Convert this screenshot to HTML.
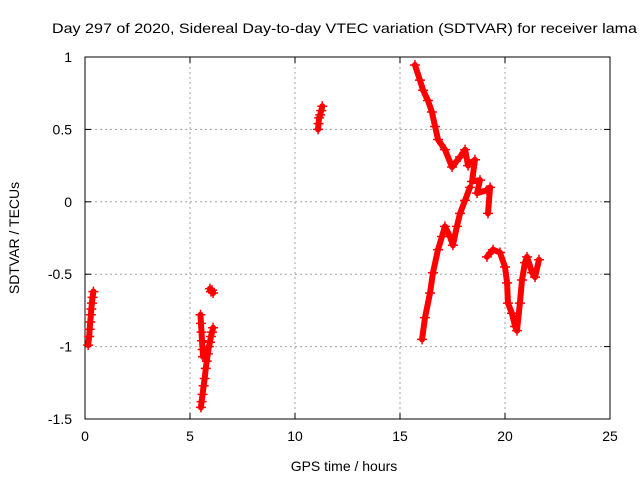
<!DOCTYPE html>
<html><head><meta charset="utf-8"><style>
body{margin:0;background:#fff}
svg{font-family:"Liberation Sans",sans-serif;font-size:14px}
</style></head><body>
<svg id="chart" width="640" height="480">
<text x="52" y="33" textLength="585" lengthAdjust="spacingAndGlyphs">Day 297 of 2020, Sidereal Day-to-day VTEC variation (SDTVAR) for receiver lama</text>
<text x="344" y="471" text-anchor="middle">GPS time / hours</text>
<text transform="translate(19,238) rotate(-90)" text-anchor="middle">SDTVAR / TECUs</text>
<g id="grid"></g><g id="axes"></g><g id="marks"></g>
</svg>
<script>
const xTicks=[0,5,10,15,20,25];
const yTicks=[1,0.5,0,-0.5,-1,-1.5];
const yTickLabels=["1","0.5","0","-0.5","-1","-1.5"];
const seg1=[[0.15,-0.99],[0.2,-0.93],[0.22,-0.88],[0.25,-0.83],[0.28,-0.78],[0.3,-0.74],[0.33,-0.7],[0.36,-0.66],[0.4,-0.62]];
const seg2=[[5.5,-0.78],[5.52,-0.84],[5.55,-0.9],[5.57,-0.96],[5.6,-1.02],[5.62,-1.07]];
const seg3=[[5.52,-1.42],[5.55,-1.38],[5.6,-1.33],[5.65,-1.27],[5.7,-1.22],[5.75,-1.15],[5.8,-1.1],[5.85,-1.05],[5.9,-1.0],[5.95,-0.97],[6.0,-0.93],[6.05,-0.9],[6.1,-0.87]];
const seg4=[[5.95,-0.6],[6.0,-0.62],[6.05,-0.61],[6.1,-0.63]];
const seg5=[[11.1,0.5],[11.12,0.54],[11.15,0.58],[11.2,0.6],[11.25,0.63],[11.3,0.66]];
const seg6=[[15.71,0.945],[15.95,0.84],[16.1,0.77],[16.33,0.7],[16.52,0.62],[16.67,0.52],[16.81,0.43],[17.14,0.36],[17.48,0.24],[17.86,0.31],[18.1,0.36],[18.24,0.25],[18.57,0.29],[18.43,0.14],[18.81,0.15],[18.67,0.06],[19.14,0.08],[19.29,0.1],[19.19,-0.08]];
const seg7=[[16.05,-0.95],[16.19,-0.8],[16.43,-0.63],[16.57,-0.49],[16.81,-0.33],[17.0,-0.24],[17.14,-0.17],[17.38,-0.24],[17.52,-0.3],[17.71,-0.17],[17.86,-0.08],[18.1,0.01],[18.33,0.1]];
const seg8=[[19.14,-0.38],[19.43,-0.33],[19.76,-0.35],[20.0,-0.45],[20.1,-0.56],[20.14,-0.7],[20.33,-0.77],[20.48,-0.86],[20.57,-0.89],[20.71,-0.7],[20.81,-0.54],[20.95,-0.42],[21.05,-0.38],[21.29,-0.49],[21.43,-0.52],[21.62,-0.4]];
const segments=[seg1,seg2,seg3,seg4,seg5,seg6,seg7,seg8];
const X0=85,X1=610,Y0=419,Y1=57;
const sx=h=>X0+(h-0)/25*(X1-X0);
const sy=v=>Y0-(v+1.5)/2.5*(Y0-Y1);
const NS="http://www.w3.org/2000/svg";
function mk(tag,attrs,parent){const e=document.createElementNS(NS,tag);for(const k in attrs)e.setAttribute(k,attrs[k]);parent.appendChild(e);return e;}
const grid=document.getElementById('grid'),axes=document.getElementById('axes'),marks=document.getElementById('marks');
xTicks.forEach((t,i)=>{const x=sx(t);
 if(i>0&&i<xTicks.length-1){const g=mk('line',{x1:x,x2:x,y1:Y1,y2:Y0,stroke:'#a0a0a0','stroke-dasharray':'2,3'},grid);}
 mk('line',{x1:x,x2:x,y1:Y0,y2:Y0-6,stroke:'#000'},axes);mk('line',{x1:x,x2:x,y1:Y1,y2:Y1+6,stroke:'#000'},axes);
 const tx=mk('text',{x:x,y:Y0+22,'text-anchor':'middle'},axes);tx.textContent=t;
 });
yTicks.forEach((t,i)=>{const y=sy(t);
 if(i>0&&i<yTicks.length-1){const g=mk('line',{x1:X0,x2:X1,y1:y,y2:y,stroke:'#a0a0a0','stroke-dasharray':'2,3'},grid);}
 mk('line',{x1:X0,x2:X0+6,y1:y,y2:y,stroke:'#000'},axes);mk('line',{x1:X1,x2:X1-6,y1:y,y2:y,stroke:'#000'},axes);
 const tx=mk('text',{x:X0-13,y:y+5,'text-anchor':'end'},axes);tx.textContent=yTickLabels[i];
 });
const fr=mk('rect',{x:X0,y:Y1,width:X1-X0,height:Y0-Y1,fill:'none',stroke:'#000'},axes);

segments.forEach(s=>{
 const pl=mk('polyline',{points:s.map(p=>sx(p[0])+','+sy(p[1])).join(' '),fill:'none',stroke:'#f00','stroke-width':6,'stroke-linejoin':'round','stroke-linecap':'round'},marks);
 
 
 s.forEach(p=>{const x=sx(p[0]),y=sy(p[1]);
  const m=mk('path',{d:`M${x-5},${y}H${x+5}M${x},${y-5}V${y+5}`,stroke:'#f00','stroke-width':1.5},marks);
  
  });
});
</script>
</body></html>
